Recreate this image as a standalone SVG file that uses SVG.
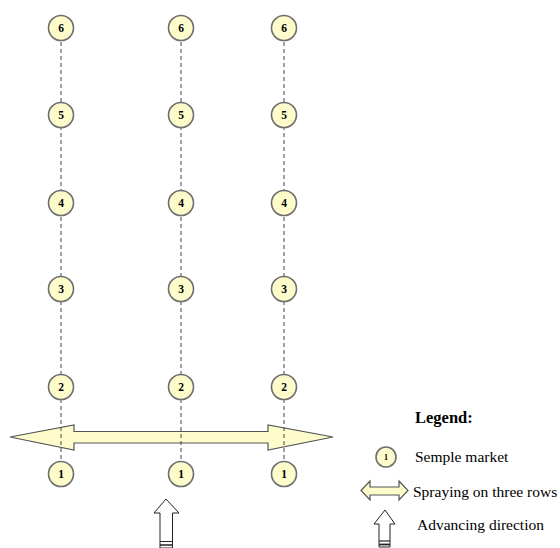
<svg xmlns="http://www.w3.org/2000/svg" width="560" height="548" viewBox="0 0 560 548">
<style>
.pt circle{fill:#fffccc;stroke:#6e6e6e;stroke-width:1.6}
.pt text{font-family:"Liberation Serif",serif;font-weight:bold;font-size:11.5px;text-anchor:middle;fill:#000}
.dash{stroke:#444;stroke-width:1;stroke-dasharray:4 3;fill:none}
.spray{fill:#fffccc;stroke:#555;stroke-width:1.2;stroke-linejoin:miter}
.adv{fill:#fff;stroke:#222;stroke-width:1}
.lbl{font-family:"Liberation Serif",serif;font-size:15.5px;fill:#000}
</style>
<g id="spray-arrow">
<polygon class="spray" points="10,437 74,425 74,431.5 268,431.5 268,425 333,437 268,450 268,443 74,443 74,450"/>
</g>
<g id="connectors">
<line class="dash" x1="61" y1="28" x2="61" y2="474"/>
<line class="dash" x1="181" y1="28" x2="181" y2="474"/>
<line class="dash" x1="284" y1="28" x2="284" y2="474"/>
</g>
<g id="col1">
<g class="pt" id="c1r6"><circle cx="61" cy="28" r="12.5"/><text x="61" y="32">6</text></g>
<g class="pt" id="c1r5"><circle cx="61" cy="115" r="12.5"/><text x="61" y="119">5</text></g>
<g class="pt" id="c1r4"><circle cx="61" cy="203" r="12.5"/><text x="61" y="207">4</text></g>
<g class="pt" id="c1r3"><circle cx="61" cy="289" r="12.5"/><text x="61" y="293">3</text></g>
<g class="pt" id="c1r2"><circle cx="61" cy="387" r="12.5"/><text x="61" y="391">2</text></g>
<g class="pt" id="c1r1"><circle cx="61" cy="474" r="12.5"/><text x="61" y="478">1</text></g>
</g>
<g id="col2">
<g class="pt" id="c2r6"><circle cx="181" cy="28" r="12.5"/><text x="181" y="32">6</text></g>
<g class="pt" id="c2r5"><circle cx="181" cy="115" r="12.5"/><text x="181" y="119">5</text></g>
<g class="pt" id="c2r4"><circle cx="181" cy="203" r="12.5"/><text x="181" y="207">4</text></g>
<g class="pt" id="c2r3"><circle cx="181" cy="289" r="12.5"/><text x="181" y="293">3</text></g>
<g class="pt" id="c2r2"><circle cx="181" cy="387" r="12.5"/><text x="181" y="391">2</text></g>
<g class="pt" id="c2r1"><circle cx="181" cy="474" r="12.5"/><text x="181" y="478">1</text></g>
</g>
<g id="col3">
<g class="pt" id="c3r6"><circle cx="284" cy="28" r="12.5"/><text x="284" y="32">6</text></g>
<g class="pt" id="c3r5"><circle cx="284" cy="115" r="12.5"/><text x="284" y="119">5</text></g>
<g class="pt" id="c3r4"><circle cx="284" cy="203" r="12.5"/><text x="284" y="207">4</text></g>
<g class="pt" id="c3r3"><circle cx="284" cy="289" r="12.5"/><text x="284" y="293">3</text></g>
<g class="pt" id="c3r2"><circle cx="284" cy="387" r="12.5"/><text x="284" y="391">2</text></g>
<g class="pt" id="c3r1"><circle cx="284" cy="474" r="12.5"/><text x="284" y="478">1</text></g>
</g>
<g id="advance-arrow">
<polygon class="adv" points="166,499 179,513 172.5,513 172.5,548 160,548 160,513 154,513"/>
<line x1="160" y1="541.5" x2="172.5" y2="541.5" stroke="#222" stroke-width="1"/>
<line x1="160" y1="545" x2="172.5" y2="545" stroke="#222" stroke-width="1.5"/>
</g>
<g id="legend">
<text class="lbl" x="415" y="423" font-weight="bold" style="font-size:16.5px">Legend:</text>
<g class="pt" id="leg-pt"><circle cx="386" cy="457" r="10"/><text x="386" y="460" style="font-size:8px">1</text></g>
<text class="lbl" x="415" y="462">Semple market</text>
<polygon class="spray" points="361,490.5 370,481 370,487 399,487 399,481 408,490.5 399,500 399,495 370,495 370,500"/>
<text class="lbl" x="413" y="497">Spraying on three rows</text>
<g>
<polygon class="adv" points="385,510 395,524 390,524 390,547 379,547 379,524 374,524"/>
<line x1="379" y1="541" x2="390" y2="541" stroke="#222" stroke-width="1.2"/>
<line x1="379" y1="544.5" x2="390" y2="544.5" stroke="#222" stroke-width="1.8"/>
</g>
<text class="lbl" x="417" y="530">Advancing direction</text>
</g>
</svg>
